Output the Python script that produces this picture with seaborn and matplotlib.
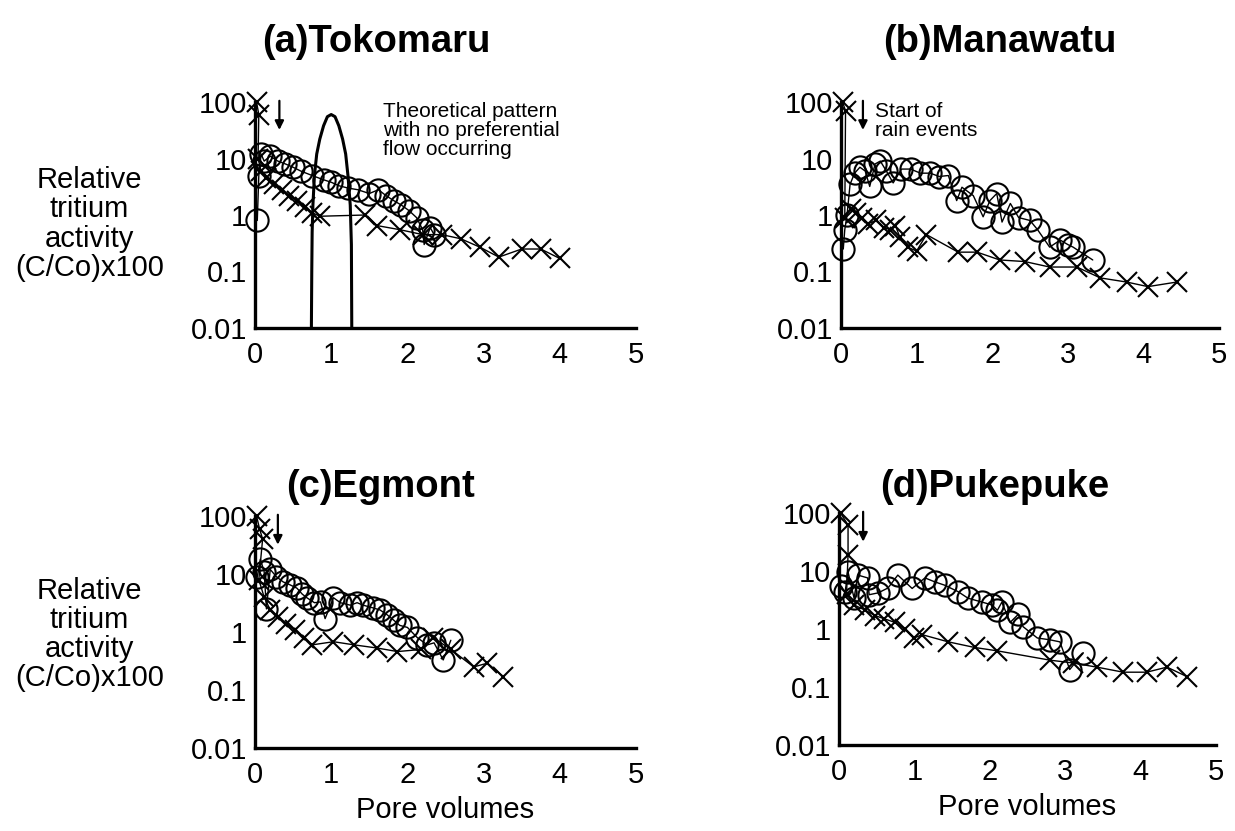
import matplotlib
matplotlib.use("Agg")
import matplotlib.pyplot as plt
from matplotlib.ticker import NullLocator
import seaborn as sns
import pandas as pd

# ---------------- data ----------------
tick_vals = [0.01, 0.1, 1, 10, 100]
tick_labels = ["0.01", "0.1", "1", "10", "100"]
x_ticks = [0, 1, 2, 3, 4, 5]

titles = ["(a)Tokomaru", "(b)Manawatu", "(c)Egmont", "(d)Pukepuke"]

a_circ_x = [0.03, 0.05, 0.08, 0.12, 0.2, 0.3, 0.4, 0.5, 0.6, 0.75, 0.9, 1.0, 1.1, 1.22, 1.35,
            1.5, 1.62, 1.72, 1.82, 1.92, 2.02, 2.12, 2.2, 2.22, 2.3, 2.35]
a_circ_y = [0.8, 5, 12, 9, 11, 9, 8, 7, 6, 5, 4.2, 3.8, 3.3, 3.0, 2.8,
            2.4, 2.8, 2.2, 1.8, 1.5, 1.2, 0.9, 0.55, 0.3, 0.6, 0.45]
a_x_x = [0.02, 0.05, 0.04, 0.08, 0.15, 0.25, 0.35, 0.45, 0.55, 0.65, 0.75, 0.85, 1.45, 1.6,
         1.9, 2.2, 2.45, 2.7, 2.95, 3.2, 3.5, 3.75, 4.0]
a_x_y = [100, 60, 10, 6, 4.5, 3.5, 2.8, 2.2, 1.8, 1.4, 1.1, 0.95, 1.0, 0.65,
         0.55, 0.45, 0.45, 0.38, 0.27, 0.18, 0.25, 0.25, 0.17]
theory_x = [0.74, 0.745, 0.75, 0.76, 0.78, 0.81, 0.85, 0.9, 0.95, 1.0, 1.05, 1.1, 1.15,
            1.19, 1.22, 1.25, 1.265, 1.27]
theory_y = [0.01, 0.1, 0.5, 1.5, 5, 12, 22, 38, 55, 60, 55, 38, 22, 12, 5, 1.5, 0.3, 0.01]

b_circ_x = [0.03, 0.05, 0.08, 0.12, 0.18, 0.25, 0.32, 0.38, 0.45, 0.52, 0.6, 0.69, 0.8, 0.92,
            1.05, 1.18, 1.3, 1.42, 1.53, 1.6, 1.75, 1.88, 1.97, 2.06, 2.13, 2.24, 2.35, 2.5,
            2.6, 2.76, 2.9, 3.0, 3.07, 3.33]
b_circ_y = [0.25, 0.55, 1.0, 3.5, 5.5, 7, 6, 3.2, 8, 9, 6, 3.7, 6.5, 6.5,
            5.5, 5.5, 4.8, 5, 1.8, 3.1, 2.2, 0.93, 1.8, 2.4, 0.75, 1.6, 0.9, 0.8,
            0.55, 0.27, 0.36, 0.3, 0.27, 0.16]
b_x_x = [0.02, 0.06, 0.05, 0.13, 0.2, 0.28, 0.36, 0.46, 0.57, 0.65, 0.72, 0.78, 0.88, 1.0,
         1.13, 1.55, 1.8, 2.1, 2.43, 2.76, 3.12, 3.43, 3.78, 4.06, 4.44]
b_x_y = [100, 70, 0.9, 1.3, 1.1, 0.9, 0.7, 0.8, 0.6, 0.55, 0.65, 0.4, 0.27, 0.23,
         0.45, 0.22, 0.22, 0.16, 0.15, 0.12, 0.12, 0.077, 0.065, 0.054, 0.065]

c_circ_x = [0.03, 0.07, 0.12, 0.15, 0.2, 0.28, 0.37, 0.46, 0.55, 0.62, 0.68, 0.78, 0.86, 0.92,
            1.03, 1.12, 1.25, 1.34, 1.42, 1.55, 1.64, 1.73, 1.82, 1.9, 2.0, 2.13, 2.26, 2.35,
            2.47, 2.57]
c_circ_y = [9, 18, 11, 2.5, 12, 9, 7.3, 6.5, 5.7, 4.5, 3.9, 3.2, 3.3, 1.7,
            3.9, 3.2, 2.9, 3.2, 2.9, 2.6, 2.4, 2.0, 1.6, 1.3, 1.2, 0.8, 0.6, 0.65,
            0.33, 0.72]
c_x_x = [0.02, 0.06, 0.1, 0.05, 0.12, 0.2, 0.3, 0.41, 0.52, 0.64, 0.75, 1.03, 1.3, 1.6,
         1.87, 2.18, 2.34, 2.57, 2.87, 3.05, 3.26]
c_x_y = [100, 60, 40, 8, 4, 2.4, 1.8, 1.4, 1.1, 0.8, 0.6, 0.68, 0.6, 0.53,
         0.46, 0.5, 0.8, 0.5, 0.25, 0.29, 0.17]

d_circ_x = [0.03, 0.08, 0.12, 0.2, 0.25, 0.38, 0.4, 0.52, 0.65, 0.78, 0.97, 1.14, 1.27, 1.4,
            1.58, 1.71, 1.9, 2.03, 2.1, 2.16, 2.27, 2.38, 2.44, 2.63, 2.8, 2.93, 3.06, 3.24]
d_circ_y = [5.5, 4.3, 9.6, 3.4, 8.5, 7.6, 3.9, 4.2, 5.1, 8.5, 5, 7.6, 6.5, 5.7,
            4.4, 3.4, 2.9, 2.6, 2.1, 2.9, 1.3, 1.8, 1.1, 0.7, 0.65, 0.6, 0.2, 0.39]
d_x_x = [0.02, 0.12, 0.12, 0.1, 0.2, 0.35, 0.48, 0.6, 0.74, 0.88, 1.0, 1.1, 1.45, 1.8, 2.1,
         2.8, 3.1, 3.42, 3.77, 4.08, 4.35, 4.62]
d_x_y = [100, 62, 19, 4, 2.6, 2.1, 1.7, 1.5, 1.3, 1.0, 0.7, 0.8, 0.6, 0.48, 0.42,
         0.29, 0.26, 0.22, 0.18, 0.18, 0.22, 0.15]

rain_start = [0.32, 0.29, 0.3, 0.32]  # x position of "start of rain" arrows

# ---------------- figure ----------------
sns.set_theme(style="white")
plt.rcParams["font.family"] = ["Liberation Sans", "DejaVu Sans"]
plt.rcParams["text.color"] = "black"
plt.rcParams["axes.labelcolor"] = "black"
plt.rcParams["xtick.color"] = "black"
plt.rcParams["ytick.color"] = "black"

W, H = 1235, 831
fig = plt.figure(figsize=(W / 100, H / 100), dpi=100)
fig.patch.set_facecolor("white")


def px_axes(left, right, top, bottom):
    return fig.add_axes([left / W, 1 - bottom / H, (right - left) / W, (bottom - top) / H])


axes = [
    px_axes(255, 636, 102, 328),
    px_axes(841, 1219, 102, 328),
    px_axes(255, 636, 516, 748),
    px_axes(839, 1216, 513, 745),
]

series = [
    (a_circ_x, a_circ_y, a_x_x, a_x_y),
    (b_circ_x, b_circ_y, b_x_x, b_x_y),
    (c_circ_x, c_circ_y, c_x_x, c_x_y),
    (d_circ_x, d_circ_y, d_x_x, d_x_y),
]

TICK_FS = 21

for i, (ax, (cx, cy, xx, xy)) in enumerate(zip(axes, series)):
    ax.set_yscale("log")
    ax.set_facecolor("white")
    dfc = pd.DataFrame({"pv": cx, "c": cy})
    dfx = pd.DataFrame({"pv": xx, "c": xy})
    sns.lineplot(data=dfx, x="pv", y="c", ax=ax, sort=False, estimator=None,
                 color="black", lw=1.0, marker="x", markersize=14,
                 markeredgecolor="black", markeredgewidth=1.5, clip_on=False)
    sns.lineplot(data=dfc, x="pv", y="c", ax=ax, sort=False, estimator=None,
                 color="black", lw=1.0, marker="o", markersize=16,
                 markerfacecolor="none", markeredgecolor="black",
                 markeredgewidth=1.5, clip_on=False)
    if i == 0:
        dft = pd.DataFrame({"pv": theory_x, "c": theory_y})
        sns.lineplot(data=dft, x="pv", y="c", ax=ax, sort=False, estimator=None,
                     color="black", lw=2.2, clip_on=False)
        ax.text(1.68, 98, "Theoretical pattern\nwith no preferential\nflow occurring",
                fontsize=15, va="top", ha="left", linespacing=1.0)
    if i == 1:
        ax.text(0.45, 98, "Start of\nrain events", fontsize=15, va="top", ha="left",
                linespacing=1.0)
    ax.annotate("", xy=(rain_start[i], 32), xytext=(rain_start[i], 105),
                arrowprops=dict(arrowstyle="-|>", color="black", lw=1.6,
                                mutation_scale=13, shrinkA=0, shrinkB=0))

    ax.set_xlim(0, 5)
    ax.set_ylim(0.01, 100)
    ax.set_xticks(x_ticks)
    ax.set_xticklabels([str(t) for t in x_ticks])
    ax.set_yticks(tick_vals)
    ax.set_yticklabels(tick_labels)
    ax.yaxis.set_minor_locator(NullLocator())
    ax.xaxis.set_minor_locator(NullLocator())
    sns.despine(ax=ax)
    for s in ("left", "bottom"):
        ax.spines[s].set_linewidth(2.4)
        ax.spines[s].set_color("black")
    ax.tick_params(axis="both", direction="inout", length=9, width=2.2,
                   labelsize=TICK_FS, colors="black")
    ax.tick_params(axis="y", pad=1)
    ax.tick_params(axis="x", pad=5)
    ax.grid(False)
    ax.set_ylabel("")
    ax.set_xlabel("")

for ax, ycen in ((axes[0], 0.46), (axes[2], 0.49)):
    ax.set_ylabel("Relative\ntritium\nactivity\n(C/Co)x100", rotation=0,
                  fontsize=TICK_FS, ha="center", va="center", linespacing=1.05)
    ax.yaxis.set_label_coords(-0.435, ycen)

for ax in (axes[2], axes[3]):
    ax.set_xlabel("Pore volumes", fontsize=TICK_FS, labelpad=5)

title_pos = [(376, 42), (1000, 42), (380, 487), (995, 487)]
for t, (tx, ty) in zip(titles, title_pos):
    fig.text(tx / W, 1 - ty / H, t, ha="center", va="center", fontsize=27.5,
             fontweight="bold", color="black")

fig.savefig("out.png", dpi=100, facecolor="white")
